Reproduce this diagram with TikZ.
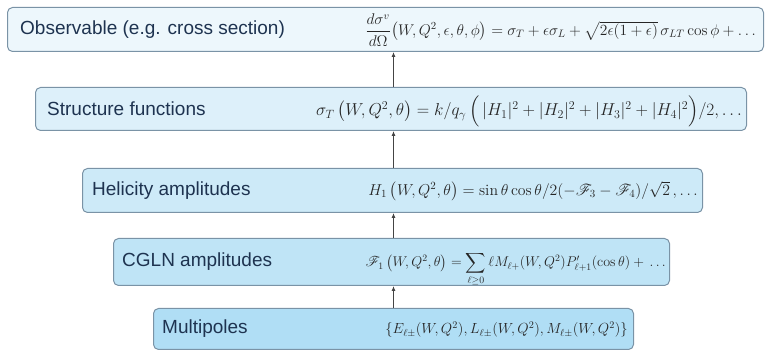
\documentclass[tikz,border=0pt]{standalone}
\usepackage{amsmath}
\usepackage{graphicx}
\usepackage{fontspec}
\setsansfont{Liberation Sans}
\usetikzlibrary{arrows.meta}
\DeclareMathAlphabet{\mathrsfs}{U}{rsfs}{m}{n}
\definecolor{fillA}{HTML}{EDF7FC}
\definecolor{fillB}{HTML}{DDF0FA}
\definecolor{fillC}{HTML}{CDEAF8}
\definecolor{fillD}{HTML}{BFE4F6}
\definecolor{fillE}{HTML}{B0DEF5}
\definecolor{boxline}{HTML}{7A93A6}
\definecolor{lbltext}{HTML}{1E3350}
\definecolor{arrline}{HTML}{444444}

\begin{document}
\begin{tikzpicture}[x=1pt, y=-1pt,
  box/.style={draw=boxline, line width=1pt, rounded corners=5pt, fill=#1, anchor=north west, inner sep=0pt},
  box/.default=fillA,
  lbl/.style={font=\sffamily\fontsize{19}{22}\selectfont, text=lbltext, anchor=west, inner sep=0pt},
  eqn/.style={font=\fontsize{#1}{#1}\selectfont, text=black!85, anchor=base east, inner sep=0pt},
  eqn/.default=14.4,
  arr/.style={-{Latex[length=5pt,width=4pt]}, line width=0.8pt, draw=arrline}]
  \useasboundingbox (0,0) rectangle (769,352);
  % boxes, top to bottom
  \node[box=fillA, minimum width=756pt, minimum height=44pt] (obs) at (7,7) {};
  \node[box=fillB, minimum width=711pt, minimum height=43pt] (sf) at (35,87) {};
  \node[box=fillC, minimum width=620pt, minimum height=44pt] (hel) at (82,168) {};
  \node[box=fillD, minimum width=556pt, minimum height=47pt] (cgln) at (113,238) {};
  \node[box=fillE, minimum width=480pt, minimum height=41pt] (mult) at (153,308) {};
  % labels
  \node[lbl] (obsl) at ([xshift=13pt]obs.west) {Observable (e.g. cross section)};
  \node[lbl] (sfl) at ([xshift=12pt]sf.west) {Structure functions};
  \node[lbl] (hell) at ([xshift=10pt]hel.west) {Helicity amplitudes};
  \node[lbl] (cglnl) at ([xshift=9pt]cgln.west) {CGLN amplitudes};
  \node[lbl] (multl) at ([xshift=9pt]mult.west) {Multipoles};
  % formulas
  \node[eqn] (obse) at ([xshift=-8pt,yshift=-1pt]obs.east |- obsl.base)
    {\scalebox{1.077}{$\dfrac{d\sigma^v}{d\Omega}\big(W,Q^2,\epsilon,\theta,\phi\big)=\sigma_T+\epsilon\sigma_L+\sqrt{2\epsilon(1+\epsilon)}\,\sigma_{LT}\cos\phi+\ldots$}};
  \node[eqn=17.28] (sfe) at ([xshift=-5pt]sf.east |- sfl.base)
    {$\sigma_T\,\big(W,Q^2,\theta\big)=k/q_\gamma\,\Big(\,|H_1|^2+|H_2|^2+|H_3|^2+|H_4|^2\Big)/2,\ldots$};
  \node[eqn] (hele) at ([xshift=-5pt]hel.east |- hell.base)
    {\scalebox{1.097}{$H_1\,\big(W,Q^2,\theta\big)=\sin\theta\cos\theta/2(-\mathrsfs{F}_3-\mathrsfs{F}_4)/\sqrt{2}\,,\ldots$}};
  \node[eqn] (cglne) at ([xshift=-4pt]cgln.east |- cglnl.base)
    {\scalebox{0.98}{$\mathrsfs{F}_1\,\big(W,Q^2,\theta\big)=\displaystyle\sum_{\ell\geq0}\ell M_{\ell+}(W,Q^2)P'_{\ell+1}(\cos\theta)+\,\ldots$}};
  \node[eqn] (multe) at ([xshift=-6pt]mult.east |- multl.base)
    {\scalebox{1.016}{$\{E_{\ell\pm}(W,Q^2),L_{\ell\pm}(W,Q^2),M_{\ell\pm}(W,Q^2)\}$}};
  % arrows upward
  \draw[arr] (mult.north) -- (mult.north |- cgln.south);
  \draw[arr] (mult.north |- cgln.north) -- (mult.north |- hel.south);
  \draw[arr] (mult.north |- hel.north) -- (mult.north |- sf.south);
  \draw[arr] (mult.north |- sf.north) -- (mult.north |- obs.south);
\end{tikzpicture}
\end{document}
